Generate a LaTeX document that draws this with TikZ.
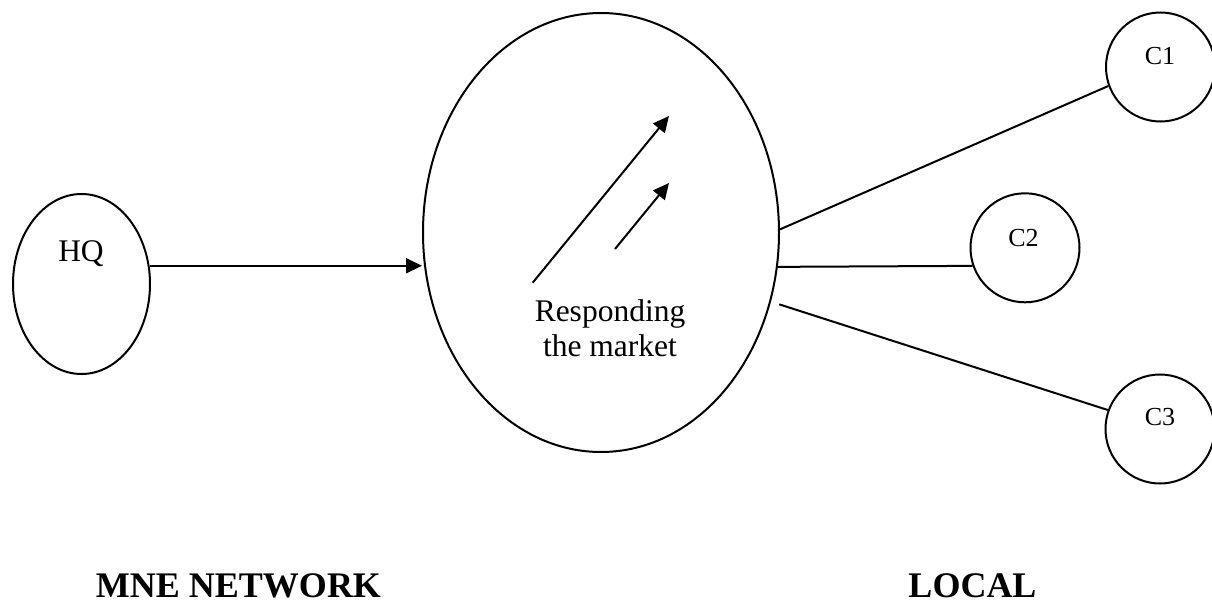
\documentclass[tikz,border=0pt]{standalone}
\usepackage{fontspec}
\setmainfont{Liberation Serif}
\usetikzlibrary{shapes.geometric,arrows.meta}
\begin{document}
\begin{tikzpicture}[x=0.5pt,y=-0.5pt,
  shp/.style={draw, line width=1pt, inner sep=0pt},
  oval/.style={shp, ellipse},
  cnode/.style={shp, circle, minimum size=54.5pt},
  lbl/.style={anchor=base, inner sep=0pt, align=center, font=\fontsize{15.75}{17.5}\selectfont},
  clbl/.style={anchor=base, inner sep=0pt, font=\fontsize{13}{15}\selectfont},
  blbl/.style={anchor=base, inner sep=0pt, font=\fontsize{18}{21}\selectfont\bfseries},
  link/.style={line width=1pt},
  arr/.style={line width=1pt, -{Triangle[length=8pt,width=7.5pt]}}]
\useasboundingbox (0,0) rectangle (1212,605);
% shapes
\node[oval, minimum width=68.5pt, minimum height=90pt] (hq) at (81.5,284) {};
\node[oval, minimum width=178pt, minimum height=219.5pt] (big) at (601,232.5) {};
\node[cnode] (c1) at (1160.5,67) {};
\node[cnode] (c2) at (1025,247.8) {};
\node[cnode] (c3) at (1160,429) {};
% labels
\node[lbl] (hqt) at (81,261.7) {HQ};
\node[lbl] (resp) at (610,356.7) {Responding\\the market};
\node[clbl] (c1t) at (1160,64.3) {C1};
\node[clbl] (c2t) at (1023.5,246) {C2};
\node[clbl] (c3t) at (1160,425) {C3};
\node[blbl] (mne) at (238.5,597) {MNE NETWORK};
\node[blbl] (loc) at (972.5,597) {LOCAL};
% arrows inside the market oval
\coordinate (a1s) at (532.7,282.7);
\coordinate (a1e) at (669,116);
\coordinate (a2s) at (615,249);
\coordinate (a2e) at (669,183);
\draw[arr] (a1s) -- (a1e);
\draw[arr] (a2s) -- (a2e);
% connectors
\draw[arr] (hq.15) -- (hq.15 -| big.west);
\draw[link] (big.1) -- (c1.200);
\draw[link] (big.-11) -- (c2.199);
\draw[link] ([xshift=4.5pt]big.-23) -- (c3.160);
\end{tikzpicture}
\end{document}
